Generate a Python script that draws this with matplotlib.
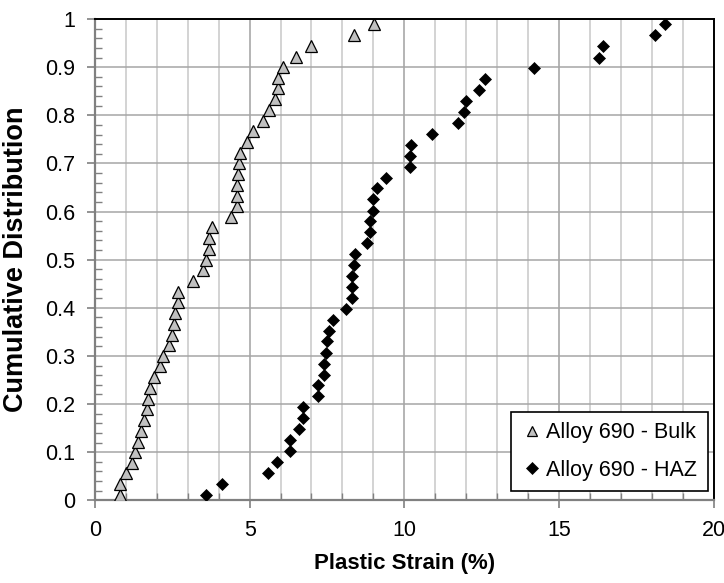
import matplotlib
matplotlib.use("Agg")
import matplotlib.pyplot as plt
from matplotlib import font_manager
from matplotlib.ticker import MultipleLocator, FormatStrFormatter

# pick Arial Narrow look-alike if present
names = {f.name for f in font_manager.fontManager.ttflist}
fam = "Liberation Sans Narrow" if "Liberation Sans Narrow" in names else "Liberation Sans"
plt.rcParams["font.family"] = [fam, "DejaVu Sans"]

# Alloy 690 - Bulk
bulk_strain = [0.80, 0.81, 0.99, 1.19, 1.29, 1.40, 1.49, 1.57, 1.68, 1.70,
               1.78, 1.90, 2.10, 2.21, 2.40, 2.48, 2.56, 2.59, 2.69, 2.70,
               3.18, 3.48, 3.59, 3.68, 3.70, 3.77, 4.39, 4.59, 4.60, 4.60,
               4.61, 4.67, 4.69, 4.91, 5.10, 5.43, 5.64, 5.83, 5.91, 5.93,
               6.09, 6.50, 6.99, 8.39, 9.01]
bulk_cdf = [0.011, 0.033, 0.056, 0.078, 0.100, 0.122, 0.144, 0.167, 0.189, 0.211,
            0.233, 0.256, 0.278, 0.300, 0.322, 0.344, 0.367, 0.389, 0.411, 0.433,
            0.456, 0.478, 0.500, 0.522, 0.544, 0.567, 0.589, 0.611, 0.633, 0.656,
            0.678, 0.700, 0.722, 0.744, 0.767, 0.789, 0.811, 0.833, 0.856, 0.878,
            0.900, 0.922, 0.944, 0.967, 0.989]

# Alloy 690 - HAZ
haz_strain = [3.59, 4.10, 5.59, 5.90, 6.29, 6.31, 6.58, 6.72, 6.74, 7.21,
              7.21, 7.39, 7.39, 7.48, 7.50, 7.55, 7.69, 8.12, 8.31, 8.31,
              8.31, 8.36, 8.41, 8.79, 8.90, 8.90, 8.98, 8.98, 9.11, 9.42,
              10.19, 10.19, 10.21, 10.89, 11.73, 11.92, 12.01, 12.41, 12.62, 14.21,
              16.31, 16.42, 18.10, 18.42]
haz_cdf = [0.011, 0.034, 0.057, 0.080, 0.102, 0.125, 0.148, 0.170, 0.193, 0.216,
           0.239, 0.261, 0.284, 0.307, 0.330, 0.352, 0.375, 0.398, 0.420, 0.443,
           0.466, 0.489, 0.511, 0.534, 0.557, 0.580, 0.602, 0.625, 0.648, 0.670,
           0.693, 0.716, 0.739, 0.761, 0.784, 0.807, 0.830, 0.852, 0.875, 0.898,
           0.920, 0.943, 0.966, 0.989]

fig = plt.figure(figsize=(7.24, 5.83), dpi=100)
ax = fig.add_axes([0.1312, 0.1419, 0.8544, 0.8255])

ax.plot(bulk_strain, bulk_cdf, linestyle="none", marker="^", ms=9,
        mfc="#c0c0c0", mec="black", mew=0.9, label="Alloy 690 - Bulk", zorder=3)
ax.plot(haz_strain, haz_cdf, linestyle="none", marker="D", ms=6.6,
        mfc="black", mec="black", mew=0.5, label="Alloy 690 - HAZ", zorder=3)

ax.set_xlim(0, 20)
ax.set_ylim(0, 1)
ax.xaxis.set_major_locator(MultipleLocator(5))
ax.xaxis.set_minor_locator(MultipleLocator(1))
ax.yaxis.set_major_locator(MultipleLocator(0.1))
ax.yaxis.set_minor_locator(MultipleLocator(0.02))
ax.yaxis.set_major_formatter(FormatStrFormatter("%g"))

ax.grid(which="minor", axis="x", color="#c8c8c8", lw=1.1)
ax.grid(which="major", axis="x", color="#a0a0a0", lw=1.1)
ax.grid(which="major", axis="y", color="#a6a6a6", lw=1.1)
ax.set_axisbelow(True)

ax.tick_params(which="major", direction="out", length=6, width=1.2,
               color="#808080", labelsize=15.5, pad=8)
ax.tick_params(which="minor", direction="in", length=5, width=1.0, color="#808080")

for s in ["left", "bottom"]:
    ax.spines[s].set_color("#808080")
    ax.spines[s].set_linewidth(1.6)
for s in ["top", "right"]:
    ax.spines[s].set_color("black")
    ax.spines[s].set_linewidth(1.4)

ax.set_xlabel("Plastic Strain (%)", fontsize=16, fontweight="bold", labelpad=9)
ax.set_ylabel("Cumulative Distribution", fontsize=19.5, fontweight="bold", labelpad=12)

leg = ax.legend(loc="lower right", bbox_to_anchor=(0.991, 0.0187), numpoints=1,
                fontsize=15.5, frameon=True, fancybox=False, shadow=False,
                borderaxespad=0, handletextpad=0.15, handlelength=1.0,
                borderpad=0.5, labelspacing=0.75, markerscale=0.85)
leg.get_frame().set_edgecolor("black")
leg.get_frame().set_linewidth(1.2)
leg.get_frame().set_alpha(1)

fig.savefig("out.png", dpi=100)
